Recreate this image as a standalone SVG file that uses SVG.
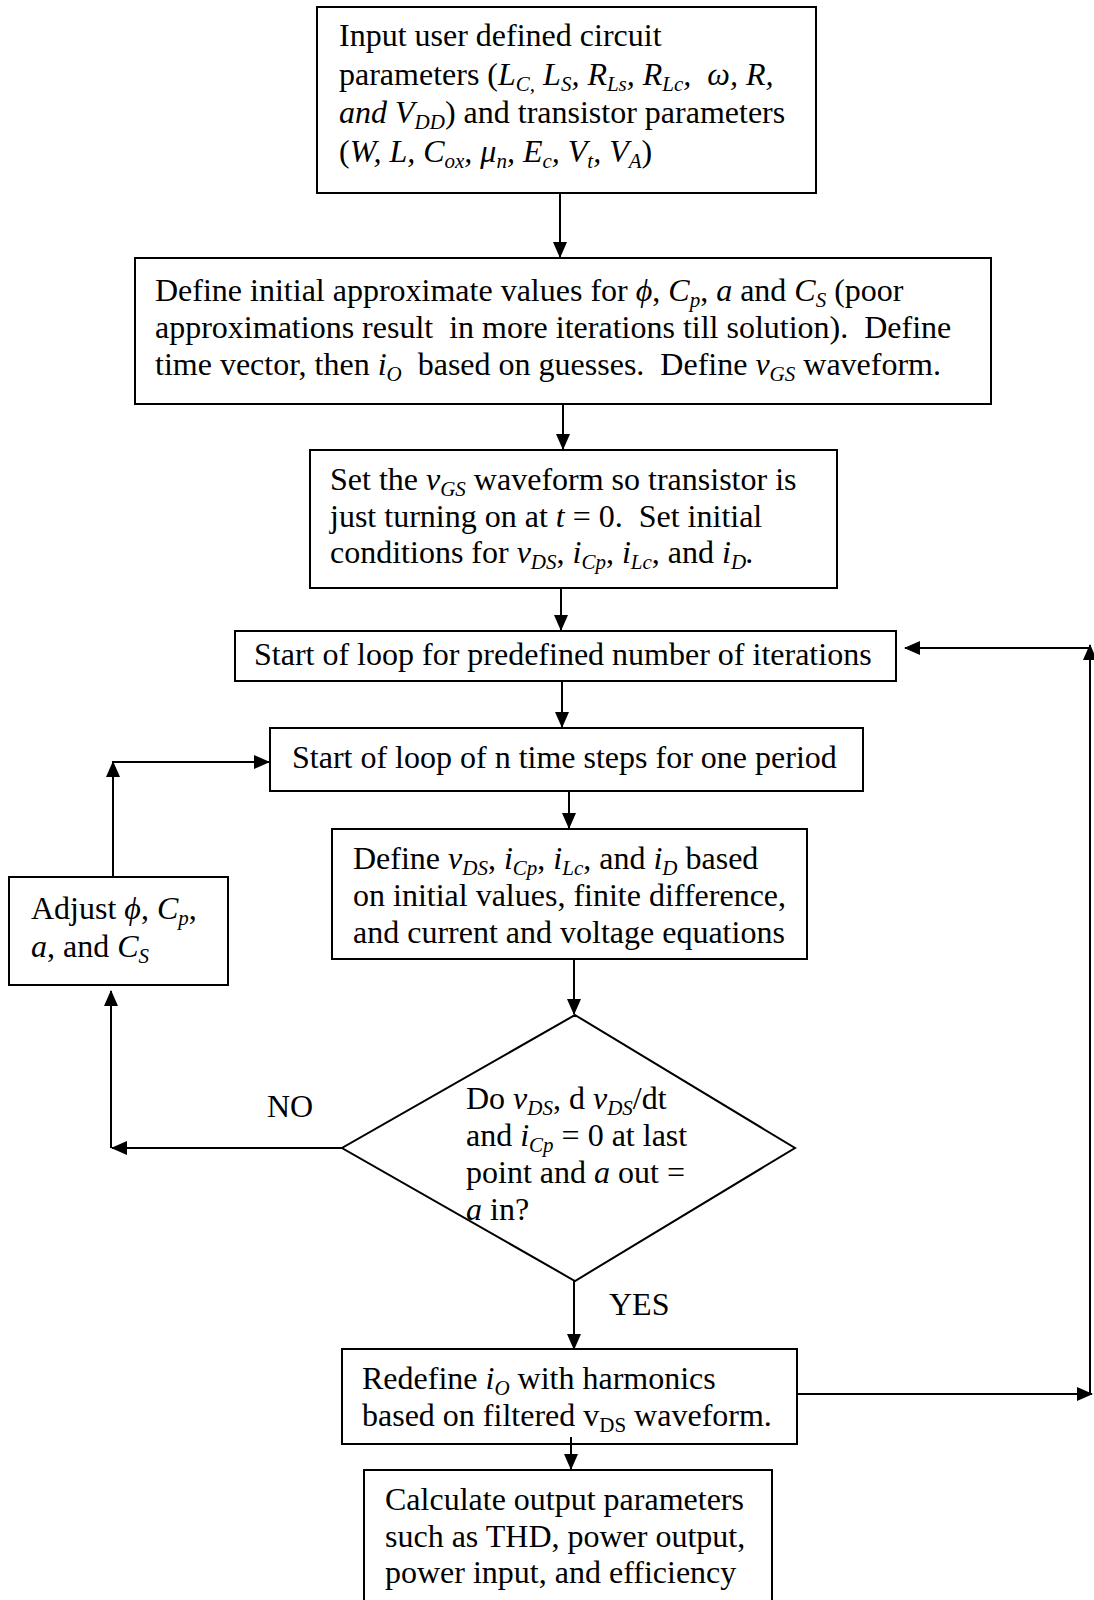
<svg xmlns="http://www.w3.org/2000/svg" width="1094" height="1600" viewBox="0 0 1094 1600">
<defs>
<style>
.b{fill:#fff;stroke:#000;stroke-width:2}
.c{fill:none;stroke:#000;stroke-width:2}
text{font-family:"Liberation Serif","Times New Roman",serif;font-size:32px;fill:#000;white-space:pre}
.i{font-style:italic}
.s{font-size:21px}
</style>
<marker id="ah" markerWidth="16" markerHeight="14" refX="15" refY="7" orient="auto" markerUnits="userSpaceOnUse">
<path d="M0,0 L16,7 L0,14 Z" fill="#000"/>
</marker>
</defs>
<rect width="1094" height="1600" fill="#fff"/>
<g id="connectors">
<line class="c" x1="560" y1="193" x2="560" y2="257" marker-end="url(#ah)"/>
<line class="c" x1="563" y1="404" x2="563" y2="449" marker-end="url(#ah)"/>
<line class="c" x1="561" y1="588" x2="561" y2="630" marker-end="url(#ah)"/>
<line class="c" x1="562" y1="681" x2="562" y2="727" marker-end="url(#ah)"/>
<line class="c" x1="569" y1="791" x2="569" y2="828" marker-end="url(#ah)"/>
<line class="c" x1="574" y1="959" x2="574" y2="1014" marker-end="url(#ah)"/>
<line class="c" x1="342" y1="1148" x2="112" y2="1148" marker-end="url(#ah)"/>
<line class="c" x1="111" y1="1148" x2="111" y2="991" marker-end="url(#ah)"/>
<line class="c" x1="113" y1="877" x2="113" y2="762" marker-end="url(#ah)"/>
<line class="c" x1="112" y1="762" x2="269" y2="762" marker-end="url(#ah)"/>
<line class="c" x1="574" y1="1280" x2="574" y2="1349" marker-end="url(#ah)"/>
<line class="c" x1="571" y1="1437" x2="571" y2="1469" marker-end="url(#ah)"/>
<line class="c" x1="797" y1="1394" x2="1092" y2="1394" marker-end="url(#ah)"/>
<line class="c" x1="1090" y1="1394" x2="1090" y2="645" marker-end="url(#ah)"/>
<line class="c" x1="1090" y1="648" x2="905" y2="648" marker-end="url(#ah)"/>
</g>
<g id="n1">
<rect class="b" x="317" y="7" width="499" height="186"/>
<text x="339" y="46">Input user defined circuit</text>
<text x="339" y="85">parameters (<tspan class="i">L</tspan><tspan class="i s" dy="6">C,</tspan><tspan class="i" dy="-6"> L</tspan><tspan class="i s" dy="6">S</tspan><tspan class="i" dy="-6">, R</tspan><tspan class="i s" dy="6">Ls</tspan><tspan class="i" dy="-6">, R</tspan><tspan class="i s" dy="6">Lc</tspan><tspan class="i" dy="-6">,  ω, R,</tspan></text>
<text x="339" y="123"><tspan class="i">and V</tspan><tspan class="i s" dy="6">DD</tspan><tspan dy="-6">) and transistor parameters</tspan></text>
<text x="339" y="162">(<tspan class="i">W, L, C</tspan><tspan class="i s" dy="6">ox</tspan><tspan class="i" dy="-6">, μ</tspan><tspan class="i s" dy="6">n</tspan><tspan class="i" dy="-6">, E</tspan><tspan class="i s" dy="6">c</tspan><tspan class="i" dy="-6">, V</tspan><tspan class="i s" dy="6">t</tspan><tspan class="i" dy="-6">, V</tspan><tspan class="i s" dy="6">A</tspan><tspan dy="-6">)</tspan></text>
</g>
<g id="n2">
<rect class="b" x="135" y="258" width="856" height="146"/>
<text x="155" y="301">Define initial approximate values for <tspan class="i">ϕ</tspan>, <tspan class="i">C</tspan><tspan class="i s" dy="6">p</tspan><tspan dy="-6">, </tspan><tspan class="i">a</tspan> and <tspan class="i">C</tspan><tspan class="i s" dy="6">S</tspan><tspan dy="-6"> (poor</tspan></text>
<text x="155" y="338">approximations result  in more iterations till solution).  Define</text>
<text x="155" y="375">time vector, then <tspan class="i">i</tspan><tspan class="i s" dy="6">O</tspan><tspan dy="-6">  based on guesses.  Define </tspan><tspan class="i">v</tspan><tspan class="i s" dy="6">GS</tspan><tspan dy="-6"> waveform.</tspan></text>
</g>
<g id="n3">
<rect class="b" x="310" y="450" width="527" height="138"/>
<text x="330" y="490">Set the <tspan class="i">v</tspan><tspan class="i s" dy="6">GS</tspan><tspan dy="-6"> waveform so transistor is</tspan></text>
<text x="330" y="527">just turning on at <tspan class="i">t</tspan> = 0.  Set initial</text>
<text x="330" y="563">conditions for <tspan class="i">v</tspan><tspan class="i s" dy="6">DS</tspan><tspan dy="-6">, </tspan><tspan class="i">i</tspan><tspan class="i s" dy="6">Cp</tspan><tspan dy="-6">, </tspan><tspan class="i">i</tspan><tspan class="i s" dy="6">Lc</tspan><tspan dy="-6">, and </tspan><tspan class="i">i</tspan><tspan class="i s" dy="6">D</tspan><tspan class="i" dy="-6">.</tspan></text>
</g>
<g id="n4">
<rect class="b" x="235" y="631" width="661" height="50"/>
<text x="254" y="665">Start of loop for predefined number of iterations</text>
</g>
<g id="n5">
<rect class="b" x="270" y="728" width="593" height="63"/>
<text x="292" y="768">Start of loop of n time steps for one period</text>
</g>
<g id="n6">
<rect class="b" x="332" y="829" width="475" height="130"/>
<text x="353" y="869">Define <tspan class="i">v</tspan><tspan class="i s" dy="6">DS</tspan><tspan dy="-6">, </tspan><tspan class="i">i</tspan><tspan class="i s" dy="6">Cp</tspan><tspan dy="-6">, </tspan><tspan class="i">i</tspan><tspan class="i s" dy="6">Lc</tspan><tspan dy="-6">, and </tspan><tspan class="i">i</tspan><tspan class="i s" dy="6">D</tspan><tspan dy="-6"> based</tspan></text>
<text x="353" y="906">on initial values, finite difference,</text>
<text x="353" y="943">and current and voltage equations</text>
</g>
<g id="n7">
<rect class="b" x="9" y="877" width="219" height="108"/>
<text x="31" y="919">Adjust <tspan class="i">ϕ</tspan>, <tspan class="i">C</tspan><tspan class="i s" dy="6">p</tspan><tspan dy="-6">,</tspan></text>
<text x="31" y="957"><tspan class="i">a</tspan>, and <tspan class="i">C</tspan><tspan class="i s" dy="6">S</tspan></text>
</g>
<g id="n8">
<polygon class="b" points="575,1015 795,1148 575,1281 342,1148"/>
<text x="466" y="1109">Do <tspan class="i">v</tspan><tspan class="i s" dy="6">DS</tspan><tspan dy="-6">, d </tspan><tspan class="i">v</tspan><tspan class="i s" dy="6">DS</tspan><tspan dy="-6">/dt</tspan></text>
<text x="466" y="1146">and <tspan class="i">i</tspan><tspan class="i s" dy="6">Cp</tspan><tspan dy="-6"> = 0 at last</tspan></text>
<text x="466" y="1183">point and <tspan class="i">a</tspan> out =</text>
<text x="466" y="1220"><tspan class="i">a</tspan> in?</text>
</g>
<g id="labels">
<text x="267" y="1117">NO</text>
<text x="609" y="1315">YES</text>
</g>
<g id="n9">
<rect class="b" x="342" y="1349" width="455" height="95"/>
<line class="c" x1="571" y1="1437" x2="571" y2="1444"/>
<text x="362" y="1389">Redefine <tspan class="i">i</tspan><tspan class="i s" dy="6">O</tspan><tspan dy="-6"> with harmonics</tspan></text>
<text x="362" y="1426">based on filtered v<tspan class="s" dy="6">DS</tspan><tspan dy="-6"> waveform.</tspan></text>
</g>
<g id="n10">
<rect class="b" x="364" y="1470" width="408" height="140"/>
<text x="385" y="1510">Calculate output parameters</text>
<text x="385" y="1547">such as THD, power output,</text>
<text x="385" y="1583">power input, and efficiency</text>
</g>
</svg>
